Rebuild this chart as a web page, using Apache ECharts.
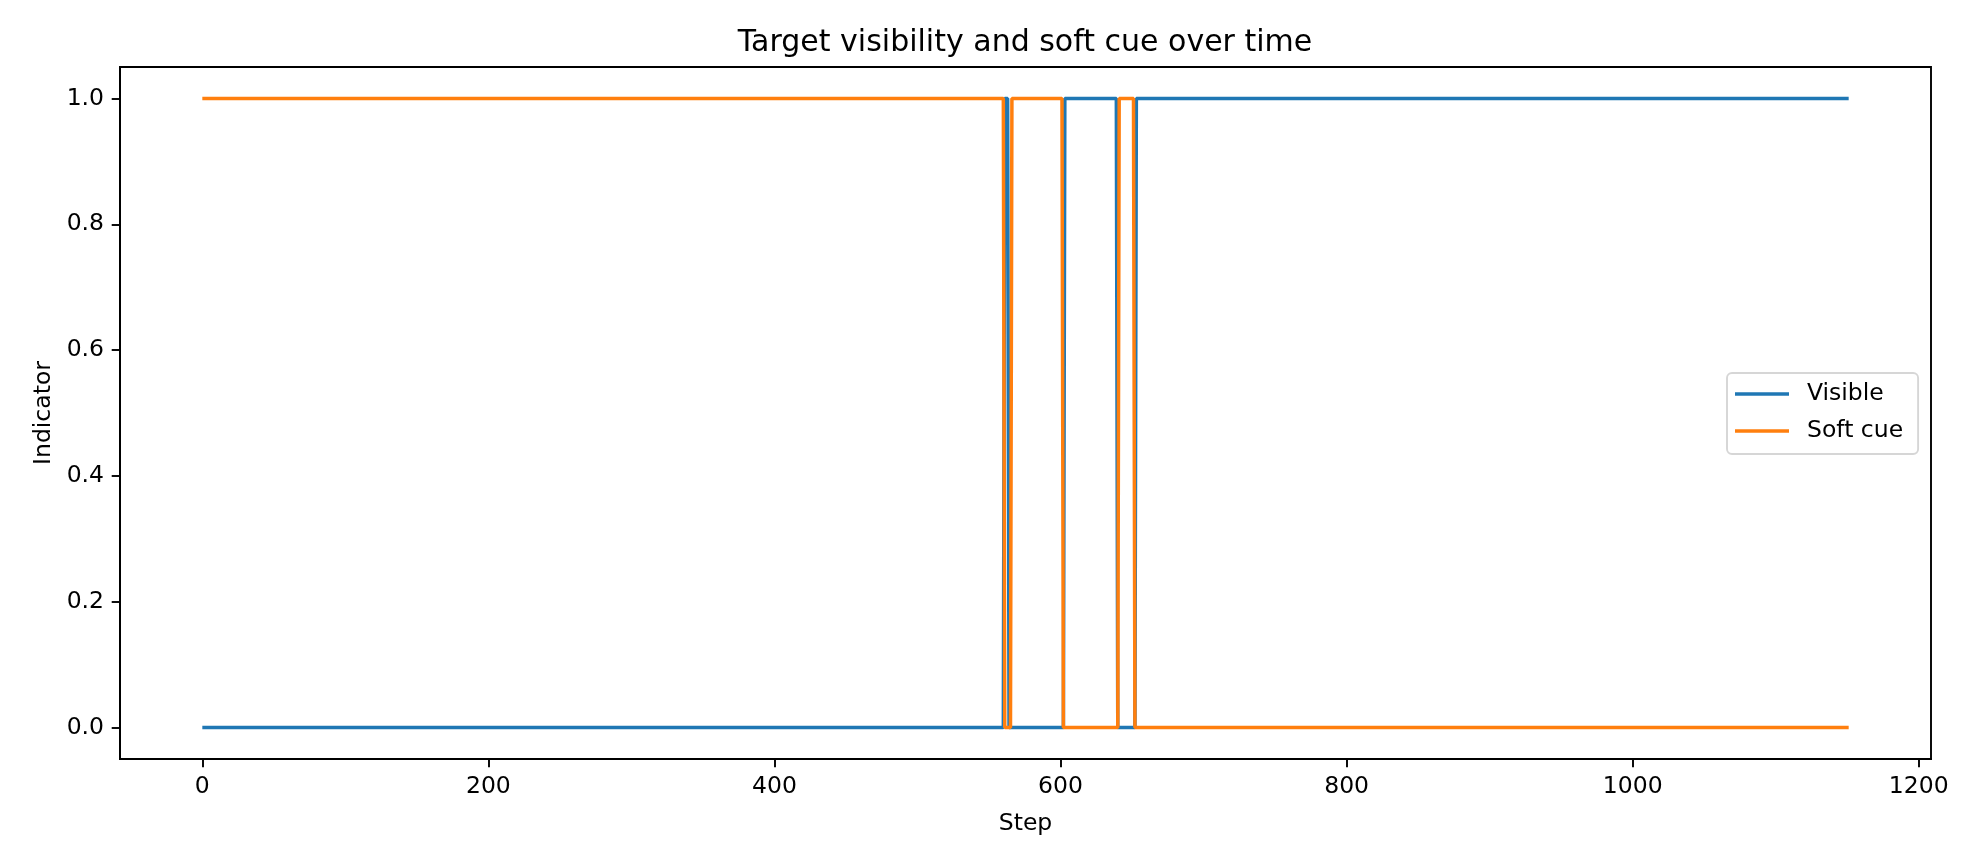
<!DOCTYPE html>
<html>
<head>
<meta charset="utf-8">
<title>Target visibility and soft cue over time</title>
<script src="https://cdn.jsdelivr.net/npm/echarts@6/dist/echarts.min.js"></script>
<style>
  html, body { margin: 0; padding: 0; background: #fff; }
  #chart { width: 1980px; height: 864px; }
</style>
</head>
<body>
<div id="chart"></div>
<script>
// change points of each indicator (step, value) - flat runs between them
const visibleSteps = [0, 560, 561, 563, 564, 602, 603, 639, 640, 652, 653, 1151]
const visibleValues = [0, 0, 1, 1, 0, 0, 1, 1, 0, 0, 1, 1]
const softCueSteps = [0, 560, 561, 565, 566, 601, 602, 640, 641, 651, 652, 1151]
const softCueValues = [1, 1, 0, 0, 1, 1, 0, 0, 1, 1, 0, 0]

// tick labels
const xTicks = [0, 200, 400, 600, 800, 1000, 1200]
const yTicks = [0, 0.2, 0.4, 0.6, 0.8, 1.0]

const font = 'DejaVu Sans'

function pairs (xs, ys) {
  return xs.map((x, i) => [x, ys[i]])
}

const myChart = echarts.init(document.getElementById('chart'))

const options = {
  animation: false,
  backgroundColor: '#fff',
  title: {
    text: 'Target visibility and soft cue over time',
    left: 1025,
    textAlign: 'center',
    top: 28,
    padding: 0,
    textStyle: { fontFamily: font, fontSize: 30, fontWeight: 'normal', color: '#000' }
  },
  grid: {
    left: 120,
    right: 49,
    top: 67,
    bottom: 105,
    show: true,
    borderColor: '#000',
    borderWidth: 1.9,
    backgroundColor: 'transparent'
  },
  legend: {
    orient: 'vertical',
    left: 1727,
    top: 373,
    padding: [8, 15, 10, 8],
    itemGap: 11,
    itemWidth: 54,
    itemHeight: 3.5,
    icon: 'rect',
    backgroundColor: '#fff',
    borderColor: '#d6d6d6',
    borderWidth: 1.9,
    borderRadius: 5,
    textStyle: {
      fontFamily: font,
      fontSize: 23.5,
      lineHeight: 26,
      color: '#000',
      padding: [0, 0, 0, 13]
    },
    data: ['Visible', 'Soft cue']
  },
  xAxis: {
    type: 'value',
    min: -57.55,
    max: 1208.55,
    name: 'Step',
    nameLocation: 'middle',
    nameGap: 53,
    nameTextStyle: { fontFamily: font, fontSize: 23.5, color: '#000' },
    axisLine: { show: true, onZero: false, lineStyle: { color: '#000', width: 1.9 } },
    splitLine: { show: false },
    axisTick: {
      show: true,
      customValues: xTicks,
      length: 8.3,
      lineStyle: { color: '#000', width: 1.9 }
    },
    axisLabel: {
      customValues: xTicks,
      margin: 16,
      fontFamily: font,
      fontSize: 23.5,
      color: '#000',
      formatter: v => String(v)
    }
  },
  yAxis: {
    type: 'value',
    min: -0.05,
    max: 1.05,
    name: 'Indicator',
    nameLocation: 'middle',
    nameGap: 64,
    nameRotate: 90,
    nameTextStyle: { fontFamily: font, fontSize: 23.5, color: '#000' },
    axisLine: { show: true, onZero: false, lineStyle: { color: '#000', width: 1.9 } },
    splitLine: { show: false },
    axisTick: {
      show: true,
      customValues: yTicks,
      length: 8.3,
      lineStyle: { color: '#000', width: 1.9 }
    },
    axisLabel: {
      customValues: yTicks,
      margin: 16,
      fontFamily: font,
      fontSize: 23.5,
      color: '#000',
      formatter: v => v.toFixed(1)
    }
  },
  series: [
    {
      name: 'Visible',
      type: 'line',
      showSymbol: false,
      symbol: 'none',
      color: '#1f77b4',
      lineStyle: { width: 3.5, color: '#1f77b4' },
      data: pairs(visibleSteps, visibleValues)
    },
    {
      name: 'Soft cue',
      type: 'line',
      showSymbol: false,
      symbol: 'none',
      color: '#ff7f0e',
      lineStyle: { width: 3.5, color: '#ff7f0e' },
      data: pairs(softCueSteps, softCueValues)
    }
  ]
}

myChart.setOption(options)
</script>
</body>
</html>
